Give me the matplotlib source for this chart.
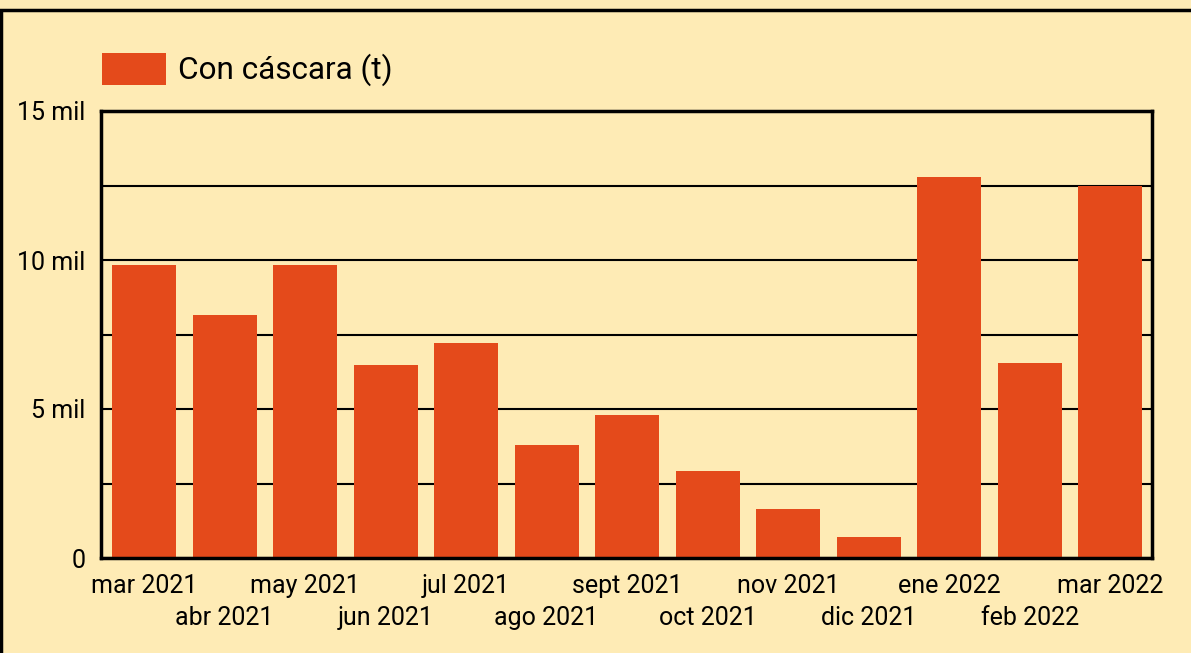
import matplotlib.pyplot as plt
from matplotlib.patches import Rectangle

plt.rcParams['font.family'] = ['Roboto', 'DejaVu Sans']

months = ['mar 2021', 'abr 2021', 'may 2021', 'jun 2021', 'jul 2021', 'ago 2021',
          'sept 2021', 'oct 2021', 'nov 2021', 'dic 2021', 'ene 2022', 'feb 2022',
          'mar 2022']
con_cascara = [9830, 8150, 9830, 6480, 7210, 3790, 4800, 2920, 1640, 700,
               12790, 6540, 12480]
y_ticks = [0, 5000, 10000, 15000]
y_labels = ['0', '5 mil', '10 mil', '15 mil']

bg = '#FEEBB5'
bar_color = '#E44A1B'

fig = plt.figure(figsize=(11.91, 6.53), dpi=100, facecolor=bg)
W, H = 1191, 653
ax = fig.add_axes([101 / W, 1 - 558 / H, (1152 - 101) / W, (558 - 111) / H])
ax.set_facecolor(bg)

x = list(range(len(months)))
ax.bar(x, con_cascara, width=0.795, color=bar_color, zorder=3, label='Con cáscara (t)')

ax.set_xlim(-0.534, 12.52)
ax.set_ylim(0, 15000)
ax.set_yticks(y_ticks)
ax.set_yticklabels(y_labels, fontsize=18)
ax.set_yticks([2500, 7500, 12500], minor=True)
ax.grid(axis='y', which='both', color='black', linewidth=1.5, zorder=1)
ax.tick_params(axis='y', which='both', length=0, pad=11)

ax.set_xticks(x)
ax.set_xticklabels(['' for _ in months])
ax.tick_params(axis='x', length=0)
# alternate the month labels on two rows
for i, m in enumerate(months):
    yoff = -20.5 if i % 2 == 0 else -43.5
    ax.annotate(m, xy=(i, 0), xycoords='data', xytext=(0, yoff), textcoords='offset points',
                ha='center', va='center', fontsize=18, annotation_clip=False)

for s in ax.spines.values():
    s.set_linewidth(2.5)
    s.set_color('black')
    s.set_zorder(4)

# legend
fig.patches.append(Rectangle((102 / W, 1 - 85 / H), 64 / W, 32 / H, transform=fig.transFigure,
                             facecolor=bar_color, edgecolor='none'))
fig.text(178 / W, 1 - 70 / H, 'Con cáscara (t)', fontsize=22.7, va='center', ha='left')

# outer frame
fig.patches.append(Rectangle((1 / W, -0.1), 1.2, 1.1 - 10 / H, transform=fig.transFigure,
                             facecolor='none', edgecolor='black', linewidth=2.5))

fig.savefig('out.png', dpi=100, facecolor=bg)
